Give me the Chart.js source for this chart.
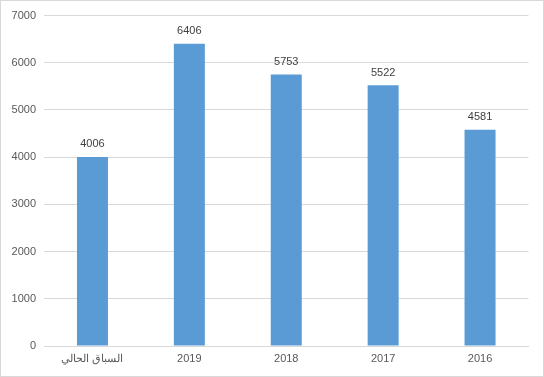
<!DOCTYPE html>
<html>
<head>
<meta charset="utf-8">
<script src="https://cdn.jsdelivr.net/npm/chart.js@4/dist/chart.umd.min.js"></script>
<style>
html,body{margin:0;padding:0;background:#fff;}
#wrap{width:544px;height:377px;box-sizing:border-box;border:1px solid #d9d9d9;}
canvas{display:block;}
</style>
</head>
<body>
<div id="wrap"><canvas id="c" width="542" height="375"></canvas></div>
<script>
const categories = ["السباق الحالي", "2019", "2018", "2017", "2016"];
const values = [4006, 6406, 5753, 5522, 4581];
const yTicks = [0, 1000, 2000, 3000, 4000, 5000, 6000, 7000];

const FONT = "'Liberation Sans', Arial, sans-serif";
const TXT = "#595959";

const labelPlugin = {
  id: 'valueLabels',
  afterDatasetsDraw(chart) {
    const ctx = chart.ctx;
    const meta = chart.getDatasetMeta(0);
    ctx.save();
    ctx.font = "11px " + FONT;
    ctx.fillStyle = "#404040";
    ctx.textAlign = "center";
    ctx.textBaseline = "bottom";
    meta.data.forEach((bar, i) => {
      ctx.fillText(String(chart.data.datasets[0].data[i]), bar.x, bar.y - 7);
    });
    ctx.restore();
  }
};

new Chart(document.getElementById('c'), {
  type: 'bar',
  data: {
    labels: categories,
    datasets: [{
      data: values,
      backgroundColor: '#5b9bd5',
      borderWidth: 0,
      barPercentage: 0.32,
      categoryPercentage: 1.0
    }]
  },
  options: {
    responsive: false,
    animation: false,
    devicePixelRatio: 1,
    layout: { padding: { left: 0, right: 14.5, top: 13, bottom: 0 } },
    plugins: { legend: { display: false }, tooltip: { enabled: false } },
    scales: {
      x: {
        grid: { display: false, drawTicks: false },
        border: { display: true, color: '#d9d9d9' },
        ticks: { color: TXT, font: { family: FONT, size: 11 }, padding: 6, maxRotation: 0 },
        afterFit(s) { s.height = 30; }
      },
      y: {
        min: 0, max: 7000,
        afterBuildTicks(s) { s.ticks = yTicks.map(v => ({ value: v })); },
        grid: { color: '#d9d9d9', drawTicks: false },
        border: { display: false },
        ticks: { color: TXT, font: { family: FONT, size: 11 }, padding: 8,
                 callback: (v) => String(v) },
        afterFit(s) { s.width = 43; }
      }
    }
  },
  plugins: [labelPlugin]
});
</script>
</body>
</html>
